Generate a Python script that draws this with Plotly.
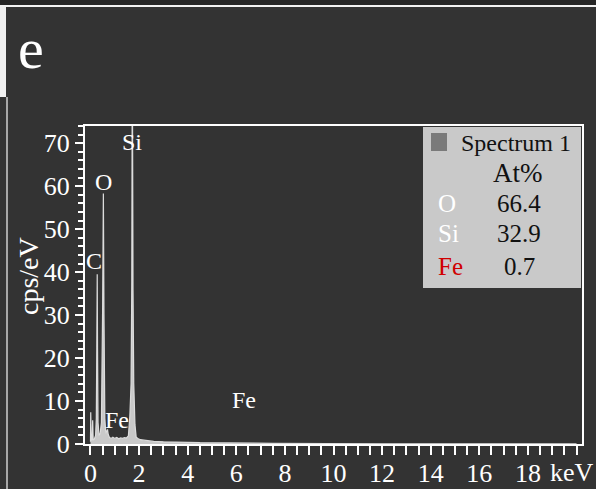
import plotly.graph_objects as go

# EDS spectrum (energy in keV, intensity in cps/eV)
energy_kev = [0.00, 0.01, 0.03, 0.07, 0.09, 0.11, 0.16, 0.21, 0.24, 0.26, 0.277, 0.29,
              0.31, 0.35, 0.40, 0.45, 0.50, 0.53, 0.555, 0.59, 0.63, 0.67, 0.70, 0.73,
              0.78, 0.85, 0.92, 1.00, 1.08, 1.16, 1.24, 1.32, 1.40, 1.48, 1.56, 1.62,
              1.67, 1.70, 1.72, 1.75, 1.78, 1.83, 1.88, 1.95, 2.05, 2.20, 2.40, 2.60,
              3.00, 3.50, 4.00, 4.50, 5.00, 5.50, 6.00, 6.40, 6.80, 7.50, 8.00, 9.00,
              10.0, 12.0, 14.0, 16.0, 18.0, 20.0]
counts_cps = [0.5, 7.4, 0.8, 1.0, 5.5, 0.9, 1.2, 2.0, 6.0, 22.5, 39.5, 22.0,
              5.0, 2.0, 2.5, 5.0, 32.0, 58.3, 30.0, 6.0, 2.5, 3.0, 3.4, 2.2,
              1.5, 1.3, 1.6, 1.3, 1.5, 1.2, 1.4, 1.3, 1.5, 1.4, 1.9, 6.5,
              14.0, 38.0, 95.0, 36.0, 14.0, 4.5, 1.6, 1.3, 1.0, 0.9, 0.7, 0.6,
              0.5, 0.5, 0.4, 0.3, 0.3, 0.25, 0.2, 0.35, 0.2, 0.15, 0.12, 0.1,
              0.08, 0.05, 0.04, 0.03, 0.02, 0.02]

# Peak labels: (text, energy, cps)
peak_labels = ["Si", "O", "C", "Fe", "Fe"]
peak_label_x = [1.71, 0.535, 0.144, 1.11, 6.30]
peak_label_y = [70.3, 60.9, 42.6, 5.7, 10.2]

# Quantification table
elements = ["O", "Si", "Fe"]
atomic_pct = ["66.4", "32.9", "0.7"]
element_colors = ["#ffffff", "#ffffff", "#d00000"]

x_tick_vals = [0, 2, 4, 6, 8, 10, 12, 14, 16, 18, 20]
x_tick_text = ["0", "2", "4", "6", "8", "10", "12", "14", "16", "18", ""]
x_unit = "keV"
y_tick_vals = [0, 10, 20, 30, 40, 50, 60, 70]

BG = "#333333"
SERIF = "Liberation Serif"
W, H = 596, 489
L, R, T, B = 85, 582, 126, 444


def px(x):
    return (x - L) / (R - L)


def py(y):
    return (B - y) / (B - T)


fig = go.Figure()
fig.add_trace(go.Scatter(
    x=energy_kev, y=counts_cps, mode="lines",
    line=dict(color="#dcdcdc", width=1.2),
    fill="tozeroy", fillcolor="#c9c9c9",
    hoverinfo="skip", showlegend=False,
))

axis_common = dict(
    showline=True, linecolor="#ffffff", linewidth=2, mirror=True,
    showgrid=False, zeroline=False, automargin=False,
    ticks="outside", tickcolor="#ffffff", tickwidth=2,
    tickfont=dict(family=SERIF, size=26, color="#ffffff"),
)

fig.update_xaxes(
    range=[-0.226, 20.226], tickvals=x_tick_vals, ticktext=x_tick_text,
    ticklen=9, ticklabelstandoff=-4,
    minor=dict(dtick=0.5, tick0=0, ticks="outside", ticklen=9,
               tickcolor="#ffffff", tickwidth=2),
    **axis_common,
)
fig.update_yaxes(
    range=[0, 74], tickvals=y_tick_vals, ticklen=8,
    minor=dict(dtick=2, tick0=0, ticks="outside", ticklen=5,
               tickcolor="#ffffff", tickwidth=2),
    **axis_common,
)

shapes = []
annotations = []

# top strip and left edge of the panel
shapes.append(dict(type="rect", xref="paper", yref="paper",
                   x0=px(-5), x1=px(W + 5), y0=py(5), y1=py(-5),
                   fillcolor="#262626", line=dict(width=0), layer="below"))
shapes.append(dict(type="line", xref="paper", yref="paper",
                   x0=px(0), x1=px(W), y0=py(6), y1=py(6),
                   line=dict(color="#f2f2f2", width=2)))
shapes.append(dict(type="rect", xref="paper", yref="paper",
                   x0=px(-2), x1=px(6), y0=py(97), y1=py(7),
                   fillcolor="#f0f0f0", line=dict(width=0)))
shapes.append(dict(type="line", xref="paper", yref="paper",
                   x0=px(7), x1=px(7), y0=py(490), y1=py(97),
                   line=dict(color="#cfcfcf", width=1.5)))

# quantification box in the top-right corner
shapes.append(dict(type="rect", xref="paper", yref="paper",
                   x0=px(423), x1=px(581), y0=py(288), y1=py(127),
                   fillcolor="#c9c9c9", line=dict(width=0)))
shapes.append(dict(type="rect", xref="paper", yref="paper",
                   x0=px(431), x1=px(447), y0=py(151), y1=py(133),
                   fillcolor="#7a7a7a", line=dict(width=0)))

annotations.append(dict(text="Spectrum 1", xref="paper", yref="paper",
                        x=px(459), y=py(143), xanchor="left", yanchor="middle",
                        showarrow=False, font=dict(family=SERIF, size=24, color="#111111")))
annotations.append(dict(text="At%", xref="paper", yref="paper",
                        x=px(518), y=py(173), xanchor="center", yanchor="middle",
                        showarrow=False, font=dict(family=SERIF, size=27, color="#111111")))
row_y = [203, 233, 266]
for el, pct, col, yy in zip(elements, atomic_pct, element_colors, row_y):
    annotations.append(dict(text=el, xref="paper", yref="paper",
                            x=px(436), y=py(yy), xanchor="left", yanchor="middle",
                            showarrow=False, font=dict(family=SERIF, size=25, color=col)))
    annotations.append(dict(text=pct, xref="paper", yref="paper",
                            x=px(519), y=py(yy), xanchor="center", yanchor="middle",
                            showarrow=False, font=dict(family=SERIF, size=25, color="#111111")))

# peak labels
for txt, xx, yy in zip(peak_labels, peak_label_x, peak_label_y):
    annotations.append(dict(text=txt, xref="x", yref="y", x=xx, y=yy,
                            xanchor="center", yanchor="middle", showarrow=False,
                            font=dict(family=SERIF, size=24, color="#ffffff")))

# unit label at the end of the energy axis
annotations.append(dict(text=x_unit, xref="paper", yref="paper",
                        x=px(595), y=py(472), xanchor="right", yanchor="middle",
                        showarrow=False, borderpad=0,
                        font=dict(family=SERIF, size=26, color="#ffffff")))

# axis title and panel letter
annotations.append(dict(text="cps/eV", xref="paper", yref="paper",
                        x=px(28), y=py(276), xanchor="center", yanchor="middle",
                        textangle=-90, showarrow=False,
                        font=dict(family=SERIF, size=28, color="#ffffff")))
annotations.append(dict(text="e", xref="paper", yref="paper",
                        x=px(31), y=py(48), xanchor="center", yanchor="middle",
                        showarrow=False,
                        font=dict(family=SERIF, size=58, color="#ffffff")))

fig.update_layout(
    width=W, height=H,
    margin=dict(l=L, r=W - R, t=T, b=H - B, pad=0),
    paper_bgcolor=BG, plot_bgcolor=BG,
    shapes=shapes, annotations=annotations,
    showlegend=False,
)

fig.write_html("out.html")
